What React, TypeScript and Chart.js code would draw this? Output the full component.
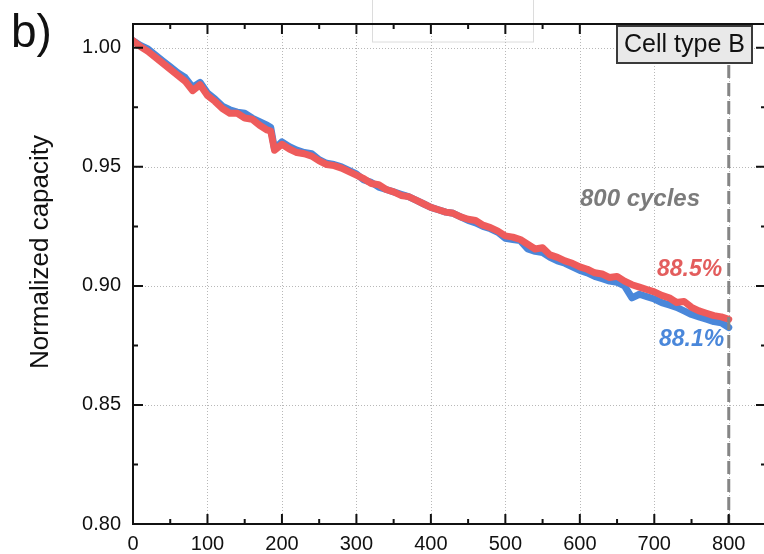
import React, { useEffect, useRef } from 'react';
import { Chart, registerables } from 'chart.js';

Chart.register(...registerables);

// ---- data ----
const cycles = [
  0, 10, 20, 30, 40, 50, 60, 70, 80, 90, 100, 110, 120, 130, 140, 150, 160, 170, 180, 185,
  190, 200, 210, 220, 230, 240, 250, 260, 270, 280, 290, 300, 310, 320, 330, 340, 350, 360,
  370, 380, 390, 400, 410, 420, 430, 440, 450, 460, 470, 480, 490, 500, 510, 520, 530, 540,
  550, 560, 570, 580, 590, 600, 610, 620, 630, 640, 650, 660, 670, 680, 690, 700, 710, 720,
  730, 740, 750, 760, 770, 780, 790, 800,
];

const capacityRed = [
  1.003, 1.0005, 0.9985, 0.996, 0.9935, 0.991, 0.9885, 0.986, 0.982, 0.9845, 0.98, 0.9775,
  0.9745, 0.9725, 0.9725, 0.9705, 0.97, 0.9675, 0.9655, 0.965,
  0.957, 0.9595, 0.9575, 0.956, 0.9555, 0.9545, 0.9525, 0.951, 0.9505, 0.9495, 0.948, 0.9465,
  0.945, 0.943, 0.9425, 0.9405, 0.9395, 0.938, 0.9375, 0.936, 0.9345, 0.933, 0.932, 0.931,
  0.9305, 0.929, 0.928, 0.9275, 0.9255, 0.9245, 0.923, 0.921, 0.9205, 0.9195, 0.9175, 0.9155,
  0.916, 0.913, 0.912, 0.9105, 0.9095, 0.908, 0.907, 0.9055, 0.905, 0.9035, 0.904, 0.902,
  0.9005, 0.8995, 0.8985, 0.8975, 0.896, 0.895, 0.893, 0.8935, 0.891, 0.8895, 0.8885, 0.8875,
  0.887, 0.886,
];

const capacityBlue = [
  1.003, 1.001, 0.9995, 0.997, 0.9945, 0.992, 0.9895, 0.9875, 0.9835, 0.9855, 0.981, 0.9785,
  0.9755, 0.974, 0.973, 0.9725, 0.9705, 0.969, 0.9675, 0.9665,
  0.9575, 0.9605, 0.9585, 0.957, 0.956, 0.9555, 0.953, 0.9515, 0.951, 0.95, 0.9485, 0.947,
  0.9445, 0.9435, 0.9415, 0.9405, 0.9395, 0.9385, 0.9375, 0.936, 0.9345, 0.933, 0.932, 0.931,
  0.9305, 0.929, 0.9275, 0.9265, 0.925, 0.924, 0.9225, 0.92, 0.9195, 0.919, 0.9155, 0.9145,
  0.914, 0.912, 0.9105, 0.9095, 0.908, 0.9065, 0.9055, 0.904, 0.903, 0.902, 0.9015, 0.9,
  0.895, 0.8965, 0.8955, 0.8945, 0.893, 0.892, 0.891, 0.8895, 0.888, 0.887, 0.886, 0.885,
  0.8845, 0.8825,
];

const xMajorTicks = [0, 100, 200, 300, 400, 500, 600, 700, 800];
const xMinorTicks = [50, 150, 250, 350, 450, 550, 650, 750];
const yMajorTicks = [0.8, 0.85, 0.9, 0.95, 1.0];
const yMinorTicks = [0.825, 0.875, 0.925, 0.975];
const xRange = [0, 850];
const yRange = [0.8, 1.01];
const markerCycle = 800;

const panelLabel = 'b)';
const yTitle = 'Normalized capacity';
const cellLabel = 'Cell type B';
const cyclesLabel = '800 cycles';
const redLabel = '88.5%';
const blueLabel = '88.1%';

const FONT = '"Liberation Sans", Arial, Helvetica, sans-serif';
const RED = '#ee5b5b';
const BLUE = '#4a87da';

const isMajor = (list: number[], v: number) => list.some((m) => Math.abs(m - v) < 1e-6);

const decor = {
  id: 'decor',
  beforeDatasetsDraw(chart: any) {
    const { ctx, chartArea: a, scales } = chart;
    const x = scales.x;
    const y = scales.y;
    ctx.save();
    // faint empty legend box
    ctx.strokeStyle = '#dcdcdc';
    ctx.lineWidth = 1;
    ctx.strokeRect(372.5, -1, 161, 43);
    // dotted grid
    ctx.strokeStyle = '#b8b8b8';
    ctx.lineWidth = 1;
    ctx.setLineDash([1, 2]);
    for (const v of xMajorTicks) {
      const px = Math.round(x.getPixelForValue(v)) + 0.5;
      ctx.beginPath();
      ctx.moveTo(px, a.top);
      ctx.lineTo(px, a.bottom);
      ctx.stroke();
    }
    for (const v of yMajorTicks) {
      const py = Math.round(y.getPixelForValue(v)) + 0.5;
      ctx.beginPath();
      ctx.moveTo(a.left, py);
      ctx.lineTo(a.right, py);
      ctx.stroke();
    }
    ctx.restore();
  },
  afterDatasetsDraw(chart: any) {
    const { ctx, chartArea: a, scales } = chart;
    const x = scales.x;
    const y = scales.y;
    ctx.save();
    // dashed marker at 800 cycles
    const mx = x.getPixelForValue(markerCycle);
    ctx.strokeStyle = '#858585';
    ctx.lineWidth = 3;
    ctx.setLineDash([13, 5]);
    ctx.beginPath();
    ctx.moveTo(mx, 65);
    ctx.lineTo(mx, a.bottom);
    ctx.stroke();
    ctx.setLineDash([]);

    // frame
    ctx.strokeStyle = '#111';
    ctx.lineWidth = 2;
    ctx.strokeRect(a.left, a.top, a.right - a.left, a.bottom - a.top);

    // inward ticks on all sides
    const drawX = (v: number, len: number) => {
      const px = x.getPixelForValue(v);
      ctx.beginPath();
      ctx.moveTo(px, a.bottom);
      ctx.lineTo(px, a.bottom - len);
      ctx.moveTo(px, a.top);
      ctx.lineTo(px, a.top + len);
      ctx.stroke();
    };
    const drawY = (v: number, len: number) => {
      const py = y.getPixelForValue(v);
      ctx.beginPath();
      ctx.moveTo(a.left, py);
      ctx.lineTo(a.left + len, py);
      ctx.moveTo(a.right, py);
      ctx.lineTo(a.right - len, py);
      ctx.stroke();
    };
    xMajorTicks.forEach((v) => drawX(v, 10));
    xMinorTicks.forEach((v) => drawX(v, 5));
    yMajorTicks.forEach((v) => drawY(v, 10));
    yMinorTicks.forEach((v) => drawY(v, 5));

    // Cell type box
    ctx.fillStyle = '#e9e9e9';
    ctx.fillRect(617, 26, 135, 37);
    ctx.strokeStyle = '#3a3a3a';
    ctx.lineWidth = 2;
    ctx.strokeRect(617, 26, 135, 37);
    ctx.fillStyle = '#111';
    ctx.font = `25px ${FONT}`;
    ctx.textAlign = 'center';
    ctx.textBaseline = 'middle';
    ctx.fillText(cellLabel, 684.5, 45);

    // annotations
    ctx.font = `italic bold 24px ${FONT}`;
    ctx.fillStyle = '#7b7b7b';
    ctx.fillText(cyclesLabel, 640, 199);
    ctx.textAlign = 'left';
    ctx.font = `italic bold 23px ${FONT}`;
    ctx.fillStyle = '#e35d5d';
    ctx.fillText(redLabel, 657, 270);
    ctx.fillStyle = BLUE;
    ctx.fillText(blueLabel, 659, 340);

    // panel label
    ctx.fillStyle = '#111';
    ctx.font = `46px ${FONT}`;
    ctx.textBaseline = 'alphabetic';
    ctx.fillText(panelLabel, 11, 47);

    // y title
    ctx.translate(41, 252);
    ctx.rotate(-Math.PI / 2);
    ctx.textAlign = 'center';
    ctx.textBaseline = 'middle';
    ctx.font = `26px ${FONT}`;
    ctx.fillText(yTitle, 0, 0);
    ctx.restore();
  },
};

export default function App() {
  const ref = useRef<HTMLCanvasElement | null>(null);

  useEffect(() => {
    document.body.style.margin = '0';
    document.body.style.overflow = 'hidden';
    document.documentElement.style.overflow = 'hidden';
    const canvas = ref.current;
    if (!canvas) return;
    const allX = [...xMajorTicks, ...xMinorTicks].sort((p, q) => p - q);
    const allY = [...yMajorTicks, ...yMinorTicks].sort((p, q) => p - q);
    const chart = new Chart(canvas, {
      type: 'line',
      data: {
        datasets: [
          {
            label: 'red',
            data: cycles.map((c, i) => ({ x: c, y: capacityRed[i] })),
            borderColor: RED,
            borderWidth: 7,
            pointRadius: 0,
            tension: 0,
            borderJoinStyle: 'round',
            borderCapStyle: 'round',
            fill: false,
          },
          {
            label: 'blue',
            data: cycles.map((c, i) => ({ x: c, y: capacityBlue[i] })),
            borderColor: BLUE,
            borderWidth: 7,
            pointRadius: 0,
            tension: 0,
            borderJoinStyle: 'round',
            borderCapStyle: 'round',
            fill: false,
          },
        ],
      },
      options: {
        animation: false,
        responsive: false,
        devicePixelRatio: 1,
        layout: { padding: { top: 13, right: 6, left: 0, bottom: 0 } },
        plugins: { legend: { display: false }, tooltip: { enabled: false } },
        scales: {
          x: {
            type: 'linear',
            min: xRange[0],
            max: xRange[1],
            grid: { display: false, drawTicks: false },
            border: { display: false },
            afterFit: (s: any) => {
              s.height = 30;
            },
            afterBuildTicks: (s: any) => {
              s.ticks = allX.map((v) => ({ value: v }));
            },
            ticks: {
              autoSkip: false,
              maxRotation: 0,
              padding: 8,
              color: '#111',
              font: { family: FONT, size: 20 },
              callback: (v: any) => (isMajor(xMajorTicks, Number(v)) ? String(Math.round(Number(v))) : ''),
            },
          },
          y: {
            type: 'linear',
            min: yRange[0],
            max: yRange[1],
            grid: { display: false, drawTicks: false },
            border: { display: false },
            afterFit: (s: any) => {
              s.width = 133;
            },
            afterBuildTicks: (s: any) => {
              s.ticks = allY.map((v) => ({ value: v }));
            },
            ticks: {
              autoSkip: false,
              padding: 12,
              color: '#111',
              font: { family: FONT, size: 20 },
              callback: (v: any) => (isMajor(yMajorTicks, Number(v)) ? Number(v).toFixed(2) : ''),
            },
          },
        },
      },
      plugins: [decor],
    } as any);
    return () => chart.destroy();
  }, []);

  return (
    <div style={{ width: 764, height: 554, overflow: 'hidden', position: 'relative', background: '#fff' }}>
      <canvas ref={ref} width={772} height={554} style={{ display: 'block' }} />
    </div>
  );
}
